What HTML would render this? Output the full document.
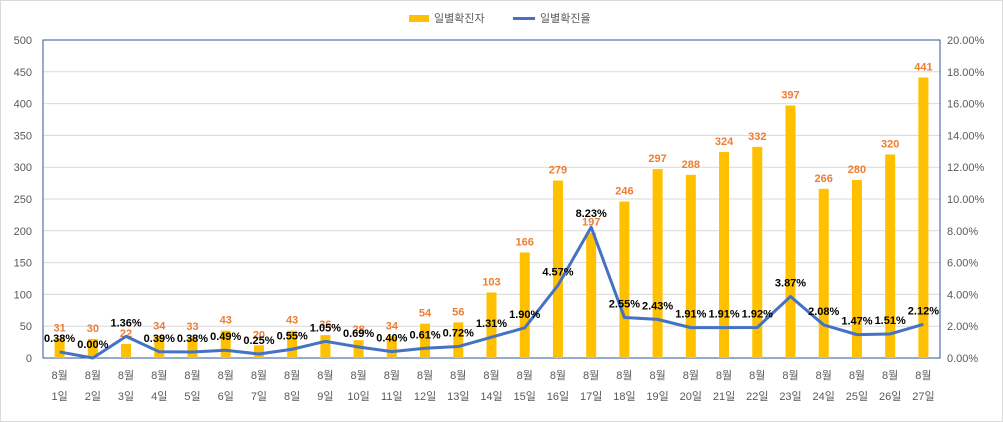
<!DOCTYPE html>
<html><head><meta charset="utf-8"><style>
body{margin:0;background:#fff}
svg{display:block;font-family:"Liberation Sans","Noto Sans CJK KR",sans-serif}
</style></head><body>
<svg id="c" width="1003" height="422"></svg>
<script>
const categories=["1일","2일","3일","4일","5일","6일","7일","8일","9일","10일","11일","12일","13일","14일","15일","16일","17일","18일","19일","20일","21일","22일","23일","24일","25일","26일","27일"];
const cases=[31,30,22,34,33,43,20,43,36,28,34,54,56,103,166,279,197,246,297,288,324,332,397,266,280,320,441];
const rates=[0.38,0.00,1.36,0.39,0.38,0.49,0.25,0.55,1.05,0.69,0.40,0.61,0.72,1.31,1.90,4.57,8.23,2.55,2.43,1.91,1.91,1.92,3.87,2.08,1.47,1.51,2.12];
const leftTicks=[0,50,100,150,200,250,300,350,400,450,500];
const rightTicks=[0,2,4,6,8,10,12,14,16,18,20];
const svg=document.getElementById('c');const NS='http://www.w3.org/2000/svg';
function mk(t,a,name,txt){const e=document.createElementNS(NS,t);for(const k in a)e.setAttribute(k,a[k]);


if(txt!==undefined)e.textContent=txt;svg.appendChild(e);return e;}
const L=43,R=940,T=40,B=358,slot=(R-L)/categories.length;
const x=i=>L+slot*(i+0.5), yl=v=>B-(v/500)*(B-T), yr=v=>B-(v/20)*(B-T);
mk('rect',{x:0.5,y:0.5,width:1002,height:421,fill:'#fff',stroke:'#d9d9d9'},'chart-border');
leftTicks.forEach((t,i)=>{const y=yl(t);
 if(t>0)mk('line',{x1:L,x2:R,y1:y,y2:y,stroke:'#d9d9d9'},'gridline');
 mk('text',{x:32,y:y+4,'text-anchor':'end','font-size':11,fill:'#595959'},'left-tick',String(t));
 mk('text',{x:947,y:yr(rightTicks[i])+4,'font-size':11,fill:'#595959'},'right-tick',rightTicks[i].toFixed(2)+'%');});
mk('rect',{x:L,y:T,width:R-L,height:B-T,fill:'none',stroke:'#2f5597','stroke-width':1},'plot-border');
cases.forEach((v,i)=>{mk('rect',{x:x(i)-5,y:yl(v),width:10,height:B-yl(v),fill:'#ffc000'},'bar-'+(i+1));
 mk('text',{x:x(i),y:yl(v)-7,'text-anchor':'middle','font-size':11,'font-weight':'bold',fill:'#ed7d31'},'bar-label',String(v));
 mk('text',{x:x(i),y:379,'text-anchor':'middle','font-size':11,fill:'#595959'},'x-label-month','8월');
 mk('text',{x:x(i),y:400,'text-anchor':'middle','font-size':11,fill:'#595959'},'x-label-day',categories[i]);});
mk('polyline',{points:rates.map((r,i)=>x(i)+','+yr(r)).join(' '),fill:'none',stroke:'#4472c4','stroke-width':3,'stroke-linejoin':'round'},'rate-line');
rates.forEach((r,i)=>mk('text',{x:x(i),y:yr(r)-10,'text-anchor':'middle','font-size':11,'font-weight':'bold',fill:'#000'},'rate-label',r.toFixed(2)+'%'));
mk('rect',{x:409,y:15,width:20,height:7,fill:'#ffc000'},'legend-bar-swatch');
mk('text',{x:434,y:22,'font-size':11,fill:'#595959'},'legend-cases','일별확진자');
mk('line',{x1:513,x2:535,y1:18.5,y2:18.5,stroke:'#4472c4','stroke-width':3},'legend-line-swatch');
mk('text',{x:540,y:22,'font-size':11,fill:'#595959'},'legend-rate','일별확진율');
</script></body></html>
